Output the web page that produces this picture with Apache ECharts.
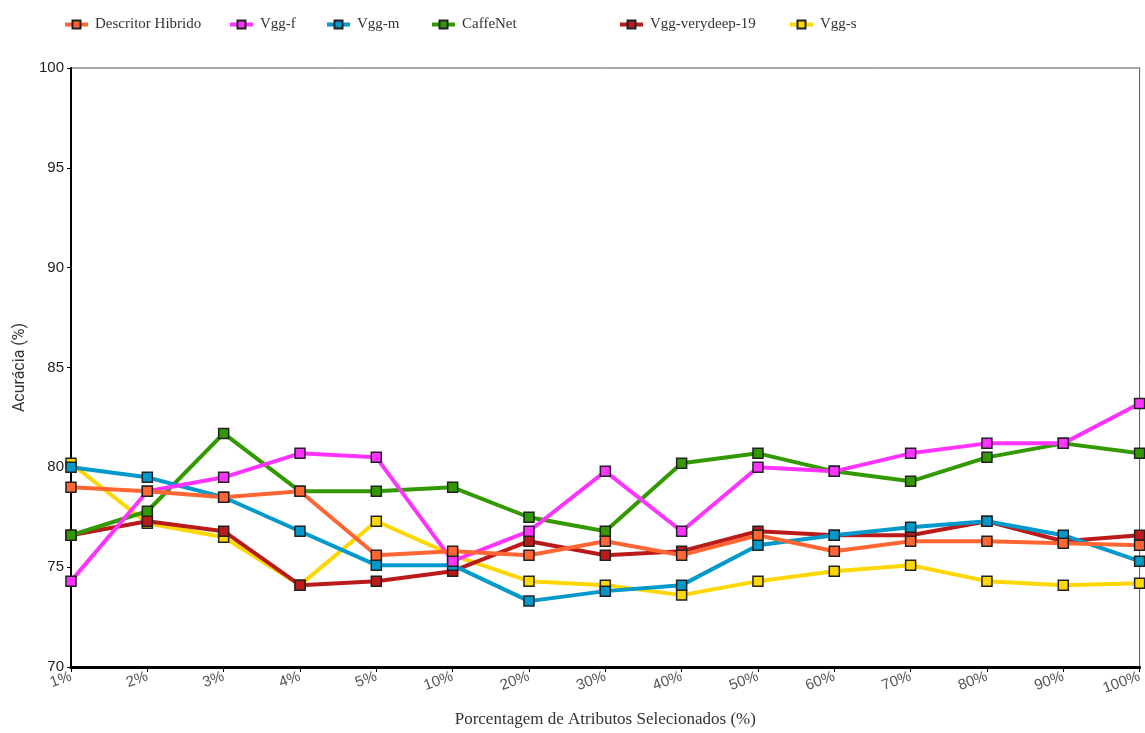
<!DOCTYPE html>
<html>
<head>
<meta charset="utf-8">
<script src="https://cdn.jsdelivr.net/npm/echarts@6/dist/echarts.min.js"></script>
<style>
  html, body { margin: 0; padding: 0; background: #fff; }
  #chart { width: 1145px; height: 733px; }
</style>
</head>
<body>
<div id="chart"></div>
<script>
// Percent of selected attributes (x axis)
const categories = ['1%', '2%', '3%', '4%', '5%', '10%', '20%', '30%', '40%', '50%', '60%', '70%', '80%', '90%', '100%'];

// Accuracy (%) per descriptor
const descritorHibrido = [79.0, 78.8, 78.5, 78.8, 75.6, 75.8, 75.6, 76.3, 75.6, 76.6, 75.8, 76.3, 76.3, 76.2, 76.1];
const vggF             = [74.3, 78.8, 79.5, 80.7, 80.5, 75.3, 76.8, 79.8, 76.8, 80.0, 79.8, 80.7, 81.2, 81.2, 83.2];
const vggM             = [80.0, 79.5, 78.5, 76.8, 75.1, 75.1, 73.3, 73.8, 74.1, 76.1, 76.6, 77.0, 77.3, 76.6, 75.3];
const caffeNet         = [76.6, 77.8, 81.7, 78.8, 78.8, 79.0, 77.5, 76.8, 80.2, 80.7, 79.8, 79.3, 80.5, 81.2, 80.7];
const vggVerydeep19    = [76.6, 77.3, 76.8, 74.1, 74.3, 74.8, 76.3, 75.6, 75.8, 76.8, 76.6, 76.6, 77.3, 76.3, 76.6];
const vggS             = [80.2, 77.2, 76.5, 74.1, 77.3, 75.6, 74.3, 74.1, 73.6, 74.3, 74.8, 75.1, 74.3, 74.1, 74.2];

// Y axis ticks
const yMin = 70, yMax = 100, yStep = 5;

const seriesDefs = [
  { name: 'Descritor Hibrido', data: descritorHibrido, color: '#FF6633', legendLeft: 58 },
  { name: 'Vgg-f',             data: vggF,             color: '#FF33FF', legendLeft: 223 },
  { name: 'Vgg-m',             data: vggM,             color: '#0099CC', legendLeft: 320 },
  { name: 'CaffeNet',          data: caffeNet,         color: '#339900', legendLeft: 425 },
  { name: 'Vgg-verydeep-19',   data: vggVerydeep19,    color: '#BB1A1A', legendLeft: 613 },
  { name: 'Vgg-s',             data: vggS,             color: '#FFD700', legendLeft: 783 }
];

const chart = echarts.init(document.getElementById('chart'), null, { renderer: 'canvas' });

const option = {
  animation: false,
  backgroundColor: '#ffffff',
  color: seriesDefs.map(s => s.color),
  legend: seriesDefs.map(s => ({
    data: [s.name],
    top: 12,
    left: s.legendLeft,
    itemWidth: 23,
    itemHeight: 10,
    itemGap: 6,
    lineStyle: { width: 4 },
    textStyle: { fontFamily: 'Liberation Serif', fontSize: 15, color: '#333', padding: [0, 0, 0, 2] }
  })),
  grid: {
    left: 71, right: 2, top: 68, bottom: 60,
    show: true,
    borderColor: '#555',
    borderWidth: 1,
    containLabel: false
  },
  xAxis: {
    type: 'category',
    data: categories,
    boundaryGap: false,
    name: 'Porcentagem de Atributos Selecionados (%)',
    nameLocation: 'middle',
    nameGap: 44,
    nameTextStyle: { fontFamily: 'Liberation Serif', fontSize: 17, color: '#333' },
    axisLine: { show: true, lineStyle: { color: '#000', width: 3 } },
    axisTick: { show: true, alignWithLabel: true, length: 5, lineStyle: { color: '#000', width: 1 } },
    axisLabel: {
      rotate: 20,
      margin: 9,
      fontFamily: 'Liberation Sans',
      fontSize: 15,
      color: '#555',
      interval: 0
    },
    splitLine: { show: false }
  },
  yAxis: {
    type: 'value',
    min: yMin, max: yMax, interval: yStep,
    name: 'Acurácia (%)',
    nameLocation: 'middle',
    nameGap: 43,
    nameRotate: 90,
    nameTextStyle: { fontFamily: 'Roboto', fontSize: 16, color: '#333' },
    axisLine: { show: true, lineStyle: { color: '#000', width: 2 } },
    axisTick: { show: true, length: 4, lineStyle: { color: '#000', width: 1 } },
    axisLabel: { fontFamily: 'Liberation Sans', fontSize: 15, color: '#222', margin: 7 },
    splitLine: { show: false }
  },
  series: seriesDefs.map((s, i) => ({
    name: s.name,
    type: 'line',
    data: s.data,
    z: 2 + (seriesDefs.length - i),
    symbol: 'rect',
    symbolSize: 10,
    showAllSymbol: true,
    lineStyle: { color: s.color, width: 4 },
    itemStyle: { color: s.color, borderColor: '#222', borderWidth: 1.5 },
    emphasis: { disabled: true }
  }))
};

chart.setOption(option);
</script>
</body>
</html>
